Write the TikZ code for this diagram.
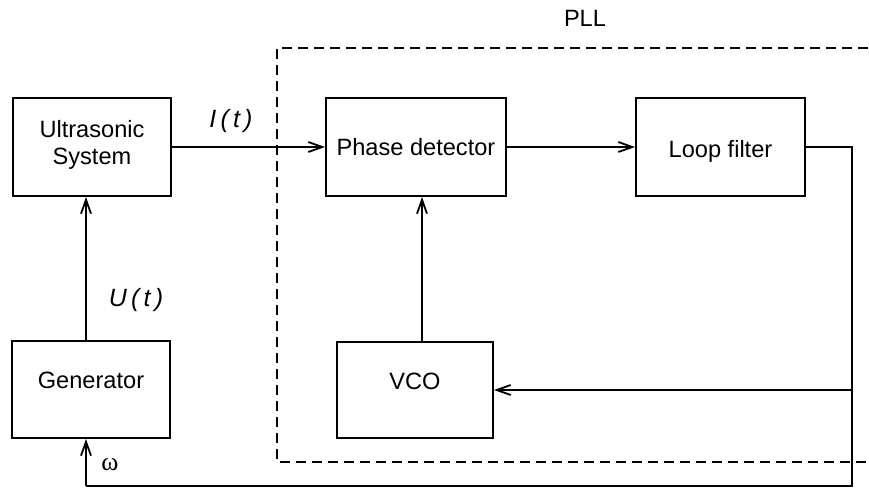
\documentclass[tikz,border=0pt]{standalone}
\usepackage{fontspec}
\setmainfont{Liberation Sans}
\newfontfamily\grk{Liberation Serif}
\usetikzlibrary{arrows.meta}
\begin{document}
\begin{tikzpicture}[x=0.5pt,y=-0.5pt,
  box/.style={draw,line width=1pt,align=center,font=\fontsize{11.8}{13.5}\selectfont,inner sep=0pt},
  conn/.style={line width=0.9pt},
  arr/.style={conn,-{Straight Barb[length=7pt,width=5pt]}},
  lbl/.style={font=\fontsize{12.5}{14}\selectfont\itshape},
  pll/.style={draw,line width=1.1pt,dash pattern=on 5pt off 3pt}]
\useasboundingbox (0,0) rectangle (869,488);
\draw[pll] (900,48) -- (277,48) -- (277,462) -- (900,462);
\clip (0,0) rectangle (869,488);
\node[font=\fontsize{11.8}{13.5}\selectfont] (plllabel) at (585,18) {PLL};
\node[box,minimum width=79pt,minimum height=49pt,text depth=5pt] (us) at (92,147) {Ultrasonic\\System};
\node[box,minimum width=79pt,minimum height=48.5pt,text depth=9pt] (gen) at (91,389.5) {Generator};
\node[box,minimum width=90pt,minimum height=49pt] (pd) at (416,147) {Phase detector};
\node[box,minimum width=84.5pt,minimum height=49pt,text height=12.5pt] (lf) at (720.5,147) {Loop filter};
\node[box,minimum width=78pt,minimum height=48pt,text depth=9pt] (vco) at (415,390) {VCO};
\coordinate (c1) at (852,147);
\coordinate (c2) at (852,390);
\coordinate (c3) at (852,486);
\coordinate (c4) at (86,486);
\draw[arr] (us.east) -- (pd.west);
\draw[arr] (pd.east) -- (lf.west);
\draw[arr] (gen.north -| 86,0) -- (us.south -| 86,0);
\draw[arr] (vco.north -| 422,0) -- (pd.south -| 422,0);
\draw[conn] (lf.east) -- (c1) -- (c3) -- (c4);
\draw[arr] (c4) -- (gen.south -| 86,0);
\draw[arr] (c2) -- (vco.east |- c2);
\node[lbl] (il) at (231,121) {I\,(\,t\,)};
\node[lbl] (ul) at (136,300) {U\,(\,t\,)};
\node[font=\grk\fontsize{13}{15}\selectfont] (wl) at (110,465) {ω};
\end{tikzpicture}
\end{document}
